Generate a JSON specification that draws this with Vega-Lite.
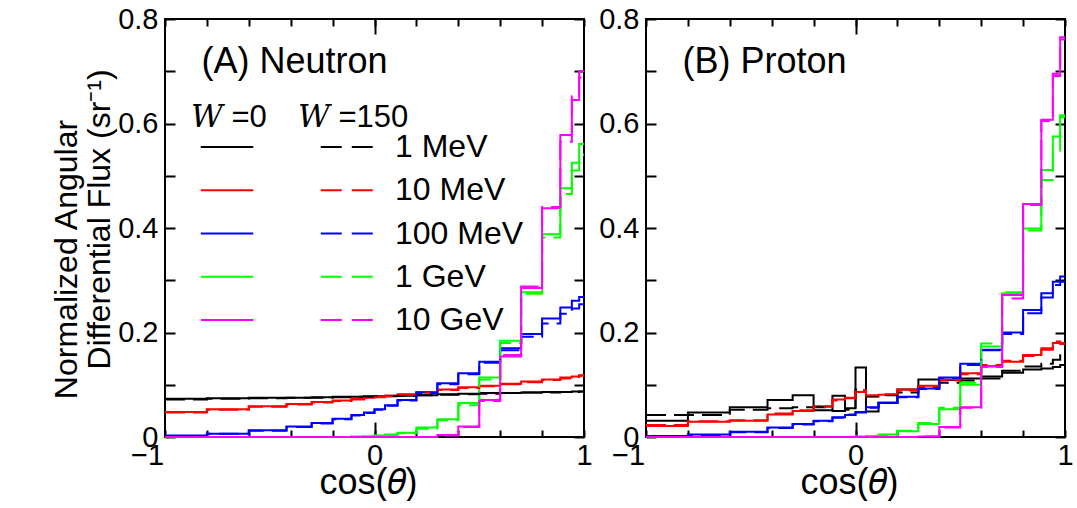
{
"$schema": "https://vega.github.io/schema/vega-lite/v6.json",
"padding": {"left": 48, "top": 4, "right": 5, "bottom": 0},
"background": "white",
"config": {
 "font": "Liberation Sans",
 "view": {"stroke": "black", "strokeWidth": 2},
 "axis": {"domain": false, "tickColor": "black", "tickWidth": 2, "labelFont": "Liberation Sans", "labelFontSize": 29, "labelColor": "black", "titleFont": "Liberation Sans", "titleFontSize": 32, "titleColor": "black", "titleFontWeight": "normal", "grid": false, "labelOverlap": false, "labelFlush": false, "labelBound": false},
 "legend": {"labelLimit": 0, "titleLimit": 0}
},
"data": {"values": [
{"p":"A","e":"1 MeV","w":"0","x":-1,"v":0.073},{"p":"A","e":"1 MeV","w":"0","x":-0.8,"v":0.074},{"p":"A","e":"1 MeV","w":"0","x":-0.6,"v":0.075},{"p":"A","e":"1 MeV","w":"0","x":-0.42,"v":0.075},{"p":"A","e":"1 MeV","w":"0","x":-0.3,"v":0.076},{"p":"A","e":"1 MeV","w":"0","x":-0.2,"v":0.077},{"p":"A","e":"1 MeV","w":"0","x":-0.11,"v":0.077},{"p":"A","e":"1 MeV","w":"0","x":-0.05,"v":0.078},{"p":"A","e":"1 MeV","w":"0","x":0,"v":0.078},{"p":"A","e":"1 MeV","w":"0","x":0.05,"v":0.079},{"p":"A","e":"1 MeV","w":"0","x":0.11,"v":0.079},{"p":"A","e":"1 MeV","w":"0","x":0.2,"v":0.080},{"p":"A","e":"1 MeV","w":"0","x":0.3,"v":0.082},{"p":"A","e":"1 MeV","w":"0","x":0.4,"v":0.083},{"p":"A","e":"1 MeV","w":"0","x":0.5,"v":0.084},{"p":"A","e":"1 MeV","w":"0","x":0.6,"v":0.084},{"p":"A","e":"1 MeV","w":"0","x":0.7,"v":0.085},{"p":"A","e":"1 MeV","w":"0","x":0.8,"v":0.086},{"p":"A","e":"1 MeV","w":"0","x":0.887,"v":0.086},{"p":"A","e":"1 MeV","w":"0","x":0.942,"v":0.087},{"p":"A","e":"1 MeV","w":"0","x":0.977,"v":0.087},{"p":"A","e":"1 MeV","w":"0","x":1,"v":0.087},
{"p":"A","e":"1 MeV","w":"150","x":-1,"v":0.072},{"p":"A","e":"1 MeV","w":"150","x":-0.8,"v":0.073},{"p":"A","e":"1 MeV","w":"150","x":-0.6,"v":0.074},{"p":"A","e":"1 MeV","w":"150","x":-0.42,"v":0.075},{"p":"A","e":"1 MeV","w":"150","x":-0.3,"v":0.075},{"p":"A","e":"1 MeV","w":"150","x":-0.2,"v":0.076},{"p":"A","e":"1 MeV","w":"150","x":-0.11,"v":0.077},{"p":"A","e":"1 MeV","w":"150","x":-0.05,"v":0.077},{"p":"A","e":"1 MeV","w":"150","x":0,"v":0.078},{"p":"A","e":"1 MeV","w":"150","x":0.05,"v":0.078},{"p":"A","e":"1 MeV","w":"150","x":0.11,"v":0.079},{"p":"A","e":"1 MeV","w":"150","x":0.2,"v":0.080},{"p":"A","e":"1 MeV","w":"150","x":0.3,"v":0.081},{"p":"A","e":"1 MeV","w":"150","x":0.4,"v":0.082},{"p":"A","e":"1 MeV","w":"150","x":0.5,"v":0.083},{"p":"A","e":"1 MeV","w":"150","x":0.6,"v":0.084},{"p":"A","e":"1 MeV","w":"150","x":0.7,"v":0.085},{"p":"A","e":"1 MeV","w":"150","x":0.8,"v":0.085},{"p":"A","e":"1 MeV","w":"150","x":0.887,"v":0.086},{"p":"A","e":"1 MeV","w":"150","x":0.942,"v":0.086},{"p":"A","e":"1 MeV","w":"150","x":0.977,"v":0.087},{"p":"A","e":"1 MeV","w":"150","x":1,"v":0.087},
{"p":"A","e":"10 MeV","w":"0","x":-1,"v":0.048},{"p":"A","e":"10 MeV","w":"0","x":-0.8,"v":0.053},{"p":"A","e":"10 MeV","w":"0","x":-0.6,"v":0.059},{"p":"A","e":"10 MeV","w":"0","x":-0.42,"v":0.063},{"p":"A","e":"10 MeV","w":"0","x":-0.3,"v":0.067},{"p":"A","e":"10 MeV","w":"0","x":-0.2,"v":0.070},{"p":"A","e":"10 MeV","w":"0","x":-0.11,"v":0.073},{"p":"A","e":"10 MeV","w":"0","x":-0.05,"v":0.075},{"p":"A","e":"10 MeV","w":"0","x":0,"v":0.077},{"p":"A","e":"10 MeV","w":"0","x":0.05,"v":0.079},{"p":"A","e":"10 MeV","w":"0","x":0.11,"v":0.082},{"p":"A","e":"10 MeV","w":"0","x":0.2,"v":0.086},{"p":"A","e":"10 MeV","w":"0","x":0.3,"v":0.091},{"p":"A","e":"10 MeV","w":"0","x":0.4,"v":0.095},{"p":"A","e":"10 MeV","w":"0","x":0.5,"v":0.098},{"p":"A","e":"10 MeV","w":"0","x":0.6,"v":0.102},{"p":"A","e":"10 MeV","w":"0","x":0.7,"v":0.106},{"p":"A","e":"10 MeV","w":"0","x":0.8,"v":0.110},{"p":"A","e":"10 MeV","w":"0","x":0.887,"v":0.114},{"p":"A","e":"10 MeV","w":"0","x":0.942,"v":0.116},{"p":"A","e":"10 MeV","w":"0","x":0.977,"v":0.118},{"p":"A","e":"10 MeV","w":"0","x":1,"v":0.118},
{"p":"A","e":"10 MeV","w":"150","x":-1,"v":0.047},{"p":"A","e":"10 MeV","w":"150","x":-0.8,"v":0.052},{"p":"A","e":"10 MeV","w":"150","x":-0.6,"v":0.058},{"p":"A","e":"10 MeV","w":"150","x":-0.42,"v":0.062},{"p":"A","e":"10 MeV","w":"150","x":-0.3,"v":0.066},{"p":"A","e":"10 MeV","w":"150","x":-0.2,"v":0.069},{"p":"A","e":"10 MeV","w":"150","x":-0.11,"v":0.072},{"p":"A","e":"10 MeV","w":"150","x":-0.05,"v":0.074},{"p":"A","e":"10 MeV","w":"150","x":0,"v":0.076},{"p":"A","e":"10 MeV","w":"150","x":0.05,"v":0.078},{"p":"A","e":"10 MeV","w":"150","x":0.11,"v":0.081},{"p":"A","e":"10 MeV","w":"150","x":0.2,"v":0.085},{"p":"A","e":"10 MeV","w":"150","x":0.3,"v":0.090},{"p":"A","e":"10 MeV","w":"150","x":0.4,"v":0.094},{"p":"A","e":"10 MeV","w":"150","x":0.5,"v":0.097},{"p":"A","e":"10 MeV","w":"150","x":0.6,"v":0.101},{"p":"A","e":"10 MeV","w":"150","x":0.7,"v":0.105},{"p":"A","e":"10 MeV","w":"150","x":0.8,"v":0.109},{"p":"A","e":"10 MeV","w":"150","x":0.887,"v":0.112},{"p":"A","e":"10 MeV","w":"150","x":0.942,"v":0.115},{"p":"A","e":"10 MeV","w":"150","x":0.977,"v":0.117},{"p":"A","e":"10 MeV","w":"150","x":1,"v":0.117},
{"p":"A","e":"100 MeV","w":"0","x":-1,"v":0.003},{"p":"A","e":"100 MeV","w":"0","x":-0.8,"v":0.006},{"p":"A","e":"100 MeV","w":"0","x":-0.6,"v":0.013},{"p":"A","e":"100 MeV","w":"0","x":-0.42,"v":0.020},{"p":"A","e":"100 MeV","w":"0","x":-0.3,"v":0.027},{"p":"A","e":"100 MeV","w":"0","x":-0.2,"v":0.035},{"p":"A","e":"100 MeV","w":"0","x":-0.11,"v":0.042},{"p":"A","e":"100 MeV","w":"0","x":-0.05,"v":0.047},{"p":"A","e":"100 MeV","w":"0","x":0,"v":0.053},{"p":"A","e":"100 MeV","w":"0","x":0.05,"v":0.061},{"p":"A","e":"100 MeV","w":"0","x":0.11,"v":0.071},{"p":"A","e":"100 MeV","w":"0","x":0.2,"v":0.085},{"p":"A","e":"100 MeV","w":"0","x":0.3,"v":0.103},{"p":"A","e":"100 MeV","w":"0","x":0.4,"v":0.122},{"p":"A","e":"100 MeV","w":"0","x":0.5,"v":0.144},{"p":"A","e":"100 MeV","w":"0","x":0.6,"v":0.170},{"p":"A","e":"100 MeV","w":"0","x":0.7,"v":0.197},{"p":"A","e":"100 MeV","w":"0","x":0.8,"v":0.227},{"p":"A","e":"100 MeV","w":"0","x":0.887,"v":0.248},{"p":"A","e":"100 MeV","w":"0","x":0.942,"v":0.261},{"p":"A","e":"100 MeV","w":"0","x":0.977,"v":0.268},{"p":"A","e":"100 MeV","w":"0","x":1,"v":0.268},
{"p":"A","e":"100 MeV","w":"150","x":-1,"v":0.002},{"p":"A","e":"100 MeV","w":"150","x":-0.8,"v":0.006},{"p":"A","e":"100 MeV","w":"150","x":-0.6,"v":0.012},{"p":"A","e":"100 MeV","w":"150","x":-0.42,"v":0.019},{"p":"A","e":"100 MeV","w":"150","x":-0.3,"v":0.026},{"p":"A","e":"100 MeV","w":"150","x":-0.2,"v":0.034},{"p":"A","e":"100 MeV","w":"150","x":-0.11,"v":0.041},{"p":"A","e":"100 MeV","w":"150","x":-0.05,"v":0.046},{"p":"A","e":"100 MeV","w":"150","x":0,"v":0.052},{"p":"A","e":"100 MeV","w":"150","x":0.05,"v":0.060},{"p":"A","e":"100 MeV","w":"150","x":0.11,"v":0.070},{"p":"A","e":"100 MeV","w":"150","x":0.2,"v":0.084},{"p":"A","e":"100 MeV","w":"150","x":0.3,"v":0.101},{"p":"A","e":"100 MeV","w":"150","x":0.4,"v":0.120},{"p":"A","e":"100 MeV","w":"150","x":0.5,"v":0.142},{"p":"A","e":"100 MeV","w":"150","x":0.6,"v":0.166},{"p":"A","e":"100 MeV","w":"150","x":0.7,"v":0.192},{"p":"A","e":"100 MeV","w":"150","x":0.8,"v":0.217},{"p":"A","e":"100 MeV","w":"150","x":0.887,"v":0.236},{"p":"A","e":"100 MeV","w":"150","x":0.942,"v":0.246},{"p":"A","e":"100 MeV","w":"150","x":0.977,"v":0.254},{"p":"A","e":"100 MeV","w":"150","x":1,"v":0.254},
{"p":"A","e":"1 GeV","w":"0","x":-1,"v":0},{"p":"A","e":"1 GeV","w":"0","x":-0.8,"v":0},{"p":"A","e":"1 GeV","w":"0","x":-0.6,"v":0},{"p":"A","e":"1 GeV","w":"0","x":-0.42,"v":0},{"p":"A","e":"1 GeV","w":"0","x":-0.3,"v":0},{"p":"A","e":"1 GeV","w":"0","x":-0.2,"v":0},{"p":"A","e":"1 GeV","w":"0","x":-0.11,"v":0.001},{"p":"A","e":"1 GeV","w":"0","x":-0.05,"v":0.001},{"p":"A","e":"1 GeV","w":"0","x":0,"v":0.003},{"p":"A","e":"1 GeV","w":"0","x":0.05,"v":0.005},{"p":"A","e":"1 GeV","w":"0","x":0.11,"v":0.008},{"p":"A","e":"1 GeV","w":"0","x":0.2,"v":0.018},{"p":"A","e":"1 GeV","w":"0","x":0.3,"v":0.034},{"p":"A","e":"1 GeV","w":"0","x":0.4,"v":0.065},{"p":"A","e":"1 GeV","w":"0","x":0.5,"v":0.114},{"p":"A","e":"1 GeV","w":"0","x":0.6,"v":0.184},{"p":"A","e":"1 GeV","w":"0","x":0.7,"v":0.277},{"p":"A","e":"1 GeV","w":"0","x":0.8,"v":0.388},{"p":"A","e":"1 GeV","w":"0","x":0.887,"v":0.476},{"p":"A","e":"1 GeV","w":"0","x":0.942,"v":0.525},{"p":"A","e":"1 GeV","w":"0","x":0.977,"v":0.561},{"p":"A","e":"1 GeV","w":"0","x":1,"v":0.561},
{"p":"A","e":"1 GeV","w":"150","x":-1,"v":0},{"p":"A","e":"1 GeV","w":"150","x":-0.8,"v":0},{"p":"A","e":"1 GeV","w":"150","x":-0.6,"v":0},{"p":"A","e":"1 GeV","w":"150","x":-0.42,"v":0},{"p":"A","e":"1 GeV","w":"150","x":-0.3,"v":0},{"p":"A","e":"1 GeV","w":"150","x":-0.2,"v":0},{"p":"A","e":"1 GeV","w":"150","x":-0.11,"v":0.001},{"p":"A","e":"1 GeV","w":"150","x":-0.05,"v":0.001},{"p":"A","e":"1 GeV","w":"150","x":0,"v":0.003},{"p":"A","e":"1 GeV","w":"150","x":0.05,"v":0.004},{"p":"A","e":"1 GeV","w":"150","x":0.11,"v":0.007},{"p":"A","e":"1 GeV","w":"150","x":0.2,"v":0.016},{"p":"A","e":"1 GeV","w":"150","x":0.3,"v":0.032},{"p":"A","e":"1 GeV","w":"150","x":0.4,"v":0.061},{"p":"A","e":"1 GeV","w":"150","x":0.5,"v":0.110},{"p":"A","e":"1 GeV","w":"150","x":0.6,"v":0.180},{"p":"A","e":"1 GeV","w":"150","x":0.7,"v":0.274},{"p":"A","e":"1 GeV","w":"150","x":0.8,"v":0.382},{"p":"A","e":"1 GeV","w":"150","x":0.887,"v":0.465},{"p":"A","e":"1 GeV","w":"150","x":0.942,"v":0.510},{"p":"A","e":"1 GeV","w":"150","x":0.977,"v":0.540},{"p":"A","e":"1 GeV","w":"150","x":1,"v":0.540},
{"p":"A","e":"10 GeV","w":"0","x":-1,"v":0},{"p":"A","e":"10 GeV","w":"0","x":-0.8,"v":0},{"p":"A","e":"10 GeV","w":"0","x":-0.6,"v":0},{"p":"A","e":"10 GeV","w":"0","x":-0.42,"v":0},{"p":"A","e":"10 GeV","w":"0","x":-0.3,"v":0},{"p":"A","e":"10 GeV","w":"0","x":-0.2,"v":0},{"p":"A","e":"10 GeV","w":"0","x":-0.11,"v":0},{"p":"A","e":"10 GeV","w":"0","x":-0.05,"v":0},{"p":"A","e":"10 GeV","w":"0","x":0,"v":0},{"p":"A","e":"10 GeV","w":"0","x":0.05,"v":0},{"p":"A","e":"10 GeV","w":"0","x":0.11,"v":0},{"p":"A","e":"10 GeV","w":"0","x":0.2,"v":0},{"p":"A","e":"10 GeV","w":"0","x":0.3,"v":0.004},{"p":"A","e":"10 GeV","w":"0","x":0.4,"v":0.020},{"p":"A","e":"10 GeV","w":"0","x":0.5,"v":0.071},{"p":"A","e":"10 GeV","w":"0","x":0.6,"v":0.154},{"p":"A","e":"10 GeV","w":"0","x":0.7,"v":0.285},{"p":"A","e":"10 GeV","w":"0","x":0.8,"v":0.438},{"p":"A","e":"10 GeV","w":"0","x":0.887,"v":0.578},{"p":"A","e":"10 GeV","w":"0","x":0.942,"v":0.645},{"p":"A","e":"10 GeV","w":"0","x":0.977,"v":0.700},{"p":"A","e":"10 GeV","w":"0","x":1,"v":0.700},
{"p":"A","e":"10 GeV","w":"150","x":-1,"v":0},{"p":"A","e":"10 GeV","w":"150","x":-0.8,"v":0},{"p":"A","e":"10 GeV","w":"150","x":-0.6,"v":0},{"p":"A","e":"10 GeV","w":"150","x":-0.42,"v":0},{"p":"A","e":"10 GeV","w":"150","x":-0.3,"v":0},{"p":"A","e":"10 GeV","w":"150","x":-0.2,"v":0},{"p":"A","e":"10 GeV","w":"150","x":-0.11,"v":0},{"p":"A","e":"10 GeV","w":"150","x":-0.05,"v":0},{"p":"A","e":"10 GeV","w":"150","x":0,"v":0},{"p":"A","e":"10 GeV","w":"150","x":0.05,"v":0},{"p":"A","e":"10 GeV","w":"150","x":0.11,"v":0},{"p":"A","e":"10 GeV","w":"150","x":0.2,"v":0},{"p":"A","e":"10 GeV","w":"150","x":0.3,"v":0.003},{"p":"A","e":"10 GeV","w":"150","x":0.4,"v":0.019},{"p":"A","e":"10 GeV","w":"150","x":0.5,"v":0.069},{"p":"A","e":"10 GeV","w":"150","x":0.6,"v":0.157},{"p":"A","e":"10 GeV","w":"150","x":0.7,"v":0.288},{"p":"A","e":"10 GeV","w":"150","x":0.8,"v":0.440},{"p":"A","e":"10 GeV","w":"150","x":0.887,"v":0.565},{"p":"A","e":"10 GeV","w":"150","x":0.942,"v":0.652},{"p":"A","e":"10 GeV","w":"150","x":0.977,"v":0.688},{"p":"A","e":"10 GeV","w":"150","x":1,"v":0.688},
{"p":"B","e":"1 MeV","w":"0","x":-1,"v":0.031},{"p":"B","e":"1 MeV","w":"0","x":-0.8,"v":0.047},{"p":"B","e":"1 MeV","w":"0","x":-0.6,"v":0.057},{"p":"B","e":"1 MeV","w":"0","x":-0.42,"v":0.071},{"p":"B","e":"1 MeV","w":"0","x":-0.3,"v":0.080},{"p":"B","e":"1 MeV","w":"0","x":-0.2,"v":0.051},{"p":"B","e":"1 MeV","w":"0","x":-0.11,"v":0.079},{"p":"B","e":"1 MeV","w":"0","x":-0.05,"v":0.055},{"p":"B","e":"1 MeV","w":"0","x":0,"v":0.133},{"p":"B","e":"1 MeV","w":"0","x":0.05,"v":0.049},{"p":"B","e":"1 MeV","w":"0","x":0.11,"v":0.065},{"p":"B","e":"1 MeV","w":"0","x":0.2,"v":0.091},{"p":"B","e":"1 MeV","w":"0","x":0.3,"v":0.110},{"p":"B","e":"1 MeV","w":"0","x":0.4,"v":0.109},{"p":"B","e":"1 MeV","w":"0","x":0.5,"v":0.112},{"p":"B","e":"1 MeV","w":"0","x":0.6,"v":0.116},{"p":"B","e":"1 MeV","w":"0","x":0.7,"v":0.123},{"p":"B","e":"1 MeV","w":"0","x":0.8,"v":0.129},{"p":"B","e":"1 MeV","w":"0","x":0.887,"v":0.131},{"p":"B","e":"1 MeV","w":"0","x":0.942,"v":0.134},{"p":"B","e":"1 MeV","w":"0","x":0.977,"v":0.138},{"p":"B","e":"1 MeV","w":"0","x":1,"v":0.138},
{"p":"B","e":"1 MeV","w":"150","x":-1,"v":0.042},{"p":"B","e":"1 MeV","w":"150","x":-0.8,"v":0.042},{"p":"B","e":"1 MeV","w":"150","x":-0.6,"v":0.052},{"p":"B","e":"1 MeV","w":"150","x":-0.42,"v":0.055},{"p":"B","e":"1 MeV","w":"150","x":-0.3,"v":0.057},{"p":"B","e":"1 MeV","w":"150","x":-0.2,"v":0.057},{"p":"B","e":"1 MeV","w":"150","x":-0.11,"v":0.050},{"p":"B","e":"1 MeV","w":"150","x":-0.05,"v":0.052},{"p":"B","e":"1 MeV","w":"150","x":0,"v":0.091},{"p":"B","e":"1 MeV","w":"150","x":0.05,"v":0.078},{"p":"B","e":"1 MeV","w":"150","x":0.11,"v":0.080},{"p":"B","e":"1 MeV","w":"150","x":0.2,"v":0.085},{"p":"B","e":"1 MeV","w":"150","x":0.3,"v":0.096},{"p":"B","e":"1 MeV","w":"150","x":0.4,"v":0.104},{"p":"B","e":"1 MeV","w":"150","x":0.5,"v":0.108},{"p":"B","e":"1 MeV","w":"150","x":0.6,"v":0.112},{"p":"B","e":"1 MeV","w":"150","x":0.7,"v":0.127},{"p":"B","e":"1 MeV","w":"150","x":0.8,"v":0.135},{"p":"B","e":"1 MeV","w":"150","x":0.887,"v":0.140},{"p":"B","e":"1 MeV","w":"150","x":0.942,"v":0.148},{"p":"B","e":"1 MeV","w":"150","x":0.977,"v":0.160},{"p":"B","e":"1 MeV","w":"150","x":1,"v":0.160},
{"p":"B","e":"10 MeV","w":"0","x":-1,"v":0.021},{"p":"B","e":"10 MeV","w":"0","x":-0.8,"v":0.029},{"p":"B","e":"10 MeV","w":"0","x":-0.6,"v":0.031},{"p":"B","e":"10 MeV","w":"0","x":-0.42,"v":0.043},{"p":"B","e":"10 MeV","w":"0","x":-0.3,"v":0.050},{"p":"B","e":"10 MeV","w":"0","x":-0.2,"v":0.059},{"p":"B","e":"10 MeV","w":"0","x":-0.11,"v":0.072},{"p":"B","e":"10 MeV","w":"0","x":-0.05,"v":0.075},{"p":"B","e":"10 MeV","w":"0","x":0,"v":0.086},{"p":"B","e":"10 MeV","w":"0","x":0.05,"v":0.077},{"p":"B","e":"10 MeV","w":"0","x":0.11,"v":0.081},{"p":"B","e":"10 MeV","w":"0","x":0.2,"v":0.091},{"p":"B","e":"10 MeV","w":"0","x":0.3,"v":0.098},{"p":"B","e":"10 MeV","w":"0","x":0.4,"v":0.110},{"p":"B","e":"10 MeV","w":"0","x":0.5,"v":0.122},{"p":"B","e":"10 MeV","w":"0","x":0.6,"v":0.135},{"p":"B","e":"10 MeV","w":"0","x":0.7,"v":0.144},{"p":"B","e":"10 MeV","w":"0","x":0.8,"v":0.157},{"p":"B","e":"10 MeV","w":"0","x":0.887,"v":0.170},{"p":"B","e":"10 MeV","w":"0","x":0.942,"v":0.180},{"p":"B","e":"10 MeV","w":"0","x":0.977,"v":0.178},{"p":"B","e":"10 MeV","w":"0","x":1,"v":0.178},
{"p":"B","e":"10 MeV","w":"150","x":-1,"v":0.023},{"p":"B","e":"10 MeV","w":"150","x":-0.8,"v":0.030},{"p":"B","e":"10 MeV","w":"150","x":-0.6,"v":0.032},{"p":"B","e":"10 MeV","w":"150","x":-0.42,"v":0.045},{"p":"B","e":"10 MeV","w":"150","x":-0.3,"v":0.051},{"p":"B","e":"10 MeV","w":"150","x":-0.2,"v":0.058},{"p":"B","e":"10 MeV","w":"150","x":-0.11,"v":0.070},{"p":"B","e":"10 MeV","w":"150","x":-0.05,"v":0.074},{"p":"B","e":"10 MeV","w":"150","x":0,"v":0.090},{"p":"B","e":"10 MeV","w":"150","x":0.05,"v":0.080},{"p":"B","e":"10 MeV","w":"150","x":0.11,"v":0.082},{"p":"B","e":"10 MeV","w":"150","x":0.2,"v":0.089},{"p":"B","e":"10 MeV","w":"150","x":0.3,"v":0.097},{"p":"B","e":"10 MeV","w":"150","x":0.4,"v":0.108},{"p":"B","e":"10 MeV","w":"150","x":0.5,"v":0.120},{"p":"B","e":"10 MeV","w":"150","x":0.6,"v":0.138},{"p":"B","e":"10 MeV","w":"150","x":0.7,"v":0.146},{"p":"B","e":"10 MeV","w":"150","x":0.8,"v":0.155},{"p":"B","e":"10 MeV","w":"150","x":0.887,"v":0.167},{"p":"B","e":"10 MeV","w":"150","x":0.942,"v":0.183},{"p":"B","e":"10 MeV","w":"150","x":0.977,"v":0.180},{"p":"B","e":"10 MeV","w":"150","x":1,"v":0.180},
{"p":"B","e":"100 MeV","w":"0","x":-1,"v":0.002},{"p":"B","e":"100 MeV","w":"0","x":-0.8,"v":0.005},{"p":"B","e":"100 MeV","w":"0","x":-0.6,"v":0.010},{"p":"B","e":"100 MeV","w":"0","x":-0.42,"v":0.018},{"p":"B","e":"100 MeV","w":"0","x":-0.3,"v":0.025},{"p":"B","e":"100 MeV","w":"0","x":-0.2,"v":0.031},{"p":"B","e":"100 MeV","w":"0","x":-0.11,"v":0.038},{"p":"B","e":"100 MeV","w":"0","x":-0.05,"v":0.042},{"p":"B","e":"100 MeV","w":"0","x":0,"v":0.047},{"p":"B","e":"100 MeV","w":"0","x":0.05,"v":0.057},{"p":"B","e":"100 MeV","w":"0","x":0.11,"v":0.066},{"p":"B","e":"100 MeV","w":"0","x":0.2,"v":0.077},{"p":"B","e":"100 MeV","w":"0","x":0.3,"v":0.093},{"p":"B","e":"100 MeV","w":"0","x":0.4,"v":0.114},{"p":"B","e":"100 MeV","w":"0","x":0.5,"v":0.140},{"p":"B","e":"100 MeV","w":"0","x":0.6,"v":0.167},{"p":"B","e":"100 MeV","w":"0","x":0.7,"v":0.200},{"p":"B","e":"100 MeV","w":"0","x":0.8,"v":0.243},{"p":"B","e":"100 MeV","w":"0","x":0.887,"v":0.275},{"p":"B","e":"100 MeV","w":"0","x":0.942,"v":0.297},{"p":"B","e":"100 MeV","w":"0","x":0.977,"v":0.307},{"p":"B","e":"100 MeV","w":"0","x":1,"v":0.307},
{"p":"B","e":"100 MeV","w":"150","x":-1,"v":0.002},{"p":"B","e":"100 MeV","w":"150","x":-0.8,"v":0.004},{"p":"B","e":"100 MeV","w":"150","x":-0.6,"v":0.009},{"p":"B","e":"100 MeV","w":"150","x":-0.42,"v":0.017},{"p":"B","e":"100 MeV","w":"150","x":-0.3,"v":0.024},{"p":"B","e":"100 MeV","w":"150","x":-0.2,"v":0.030},{"p":"B","e":"100 MeV","w":"150","x":-0.11,"v":0.037},{"p":"B","e":"100 MeV","w":"150","x":-0.05,"v":0.043},{"p":"B","e":"100 MeV","w":"150","x":0,"v":0.048},{"p":"B","e":"100 MeV","w":"150","x":0.05,"v":0.056},{"p":"B","e":"100 MeV","w":"150","x":0.11,"v":0.065},{"p":"B","e":"100 MeV","w":"150","x":0.2,"v":0.076},{"p":"B","e":"100 MeV","w":"150","x":0.3,"v":0.092},{"p":"B","e":"100 MeV","w":"150","x":0.4,"v":0.113},{"p":"B","e":"100 MeV","w":"150","x":0.5,"v":0.138},{"p":"B","e":"100 MeV","w":"150","x":0.6,"v":0.166},{"p":"B","e":"100 MeV","w":"150","x":0.7,"v":0.197},{"p":"B","e":"100 MeV","w":"150","x":0.8,"v":0.237},{"p":"B","e":"100 MeV","w":"150","x":0.887,"v":0.267},{"p":"B","e":"100 MeV","w":"150","x":0.942,"v":0.291},{"p":"B","e":"100 MeV","w":"150","x":0.977,"v":0.297},{"p":"B","e":"100 MeV","w":"150","x":1,"v":0.297},
{"p":"B","e":"1 GeV","w":"0","x":-1,"v":0},{"p":"B","e":"1 GeV","w":"0","x":-0.8,"v":0},{"p":"B","e":"1 GeV","w":"0","x":-0.6,"v":0},{"p":"B","e":"1 GeV","w":"0","x":-0.42,"v":0},{"p":"B","e":"1 GeV","w":"0","x":-0.3,"v":0},{"p":"B","e":"1 GeV","w":"0","x":-0.2,"v":0},{"p":"B","e":"1 GeV","w":"0","x":-0.11,"v":0},{"p":"B","e":"1 GeV","w":"0","x":-0.05,"v":0},{"p":"B","e":"1 GeV","w":"0","x":0,"v":0.001},{"p":"B","e":"1 GeV","w":"0","x":0.05,"v":0.002},{"p":"B","e":"1 GeV","w":"0","x":0.11,"v":0.005},{"p":"B","e":"1 GeV","w":"0","x":0.2,"v":0.011},{"p":"B","e":"1 GeV","w":"0","x":0.3,"v":0.025},{"p":"B","e":"1 GeV","w":"0","x":0.4,"v":0.053},{"p":"B","e":"1 GeV","w":"0","x":0.5,"v":0.100},{"p":"B","e":"1 GeV","w":"0","x":0.6,"v":0.173},{"p":"B","e":"1 GeV","w":"0","x":0.7,"v":0.275},{"p":"B","e":"1 GeV","w":"0","x":0.8,"v":0.399},{"p":"B","e":"1 GeV","w":"0","x":0.887,"v":0.511},{"p":"B","e":"1 GeV","w":"0","x":0.942,"v":0.575},{"p":"B","e":"1 GeV","w":"0","x":0.977,"v":0.616},{"p":"B","e":"1 GeV","w":"0","x":1,"v":0.616},
{"p":"B","e":"1 GeV","w":"150","x":-1,"v":0},{"p":"B","e":"1 GeV","w":"150","x":-0.8,"v":0},{"p":"B","e":"1 GeV","w":"150","x":-0.6,"v":0},{"p":"B","e":"1 GeV","w":"150","x":-0.42,"v":0},{"p":"B","e":"1 GeV","w":"150","x":-0.3,"v":0},{"p":"B","e":"1 GeV","w":"150","x":-0.2,"v":0},{"p":"B","e":"1 GeV","w":"150","x":-0.11,"v":0},{"p":"B","e":"1 GeV","w":"150","x":-0.05,"v":0},{"p":"B","e":"1 GeV","w":"150","x":0,"v":0.001},{"p":"B","e":"1 GeV","w":"150","x":0.05,"v":0.002},{"p":"B","e":"1 GeV","w":"150","x":0.11,"v":0.004},{"p":"B","e":"1 GeV","w":"150","x":0.2,"v":0.012},{"p":"B","e":"1 GeV","w":"150","x":0.3,"v":0.027},{"p":"B","e":"1 GeV","w":"150","x":0.4,"v":0.056},{"p":"B","e":"1 GeV","w":"150","x":0.5,"v":0.104},{"p":"B","e":"1 GeV","w":"150","x":0.6,"v":0.179},{"p":"B","e":"1 GeV","w":"150","x":0.7,"v":0.277},{"p":"B","e":"1 GeV","w":"150","x":0.8,"v":0.395},{"p":"B","e":"1 GeV","w":"150","x":0.887,"v":0.492},{"p":"B","e":"1 GeV","w":"150","x":0.942,"v":0.548},{"p":"B","e":"1 GeV","w":"150","x":0.977,"v":0.612},{"p":"B","e":"1 GeV","w":"150","x":1,"v":0.612},
{"p":"B","e":"10 GeV","w":"0","x":-1,"v":0},{"p":"B","e":"10 GeV","w":"0","x":-0.8,"v":0},{"p":"B","e":"10 GeV","w":"0","x":-0.6,"v":0},{"p":"B","e":"10 GeV","w":"0","x":-0.42,"v":0},{"p":"B","e":"10 GeV","w":"0","x":-0.3,"v":0},{"p":"B","e":"10 GeV","w":"0","x":-0.2,"v":0},{"p":"B","e":"10 GeV","w":"0","x":-0.11,"v":0},{"p":"B","e":"10 GeV","w":"0","x":-0.05,"v":0},{"p":"B","e":"10 GeV","w":"0","x":0,"v":0},{"p":"B","e":"10 GeV","w":"0","x":0.05,"v":0},{"p":"B","e":"10 GeV","w":"0","x":0.11,"v":0},{"p":"B","e":"10 GeV","w":"0","x":0.2,"v":0},{"p":"B","e":"10 GeV","w":"0","x":0.3,"v":0.001},{"p":"B","e":"10 GeV","w":"0","x":0.4,"v":0.019},{"p":"B","e":"10 GeV","w":"0","x":0.5,"v":0.057},{"p":"B","e":"10 GeV","w":"0","x":0.6,"v":0.136},{"p":"B","e":"10 GeV","w":"0","x":0.7,"v":0.272},{"p":"B","e":"10 GeV","w":"0","x":0.8,"v":0.446},{"p":"B","e":"10 GeV","w":"0","x":0.887,"v":0.607},{"p":"B","e":"10 GeV","w":"0","x":0.942,"v":0.691},{"p":"B","e":"10 GeV","w":"0","x":0.977,"v":0.761},{"p":"B","e":"10 GeV","w":"0","x":1,"v":0.761},
{"p":"B","e":"10 GeV","w":"150","x":-1,"v":0},{"p":"B","e":"10 GeV","w":"150","x":-0.8,"v":0},{"p":"B","e":"10 GeV","w":"150","x":-0.6,"v":0},{"p":"B","e":"10 GeV","w":"150","x":-0.42,"v":0},{"p":"B","e":"10 GeV","w":"150","x":-0.3,"v":0},{"p":"B","e":"10 GeV","w":"150","x":-0.2,"v":0},{"p":"B","e":"10 GeV","w":"150","x":-0.11,"v":0},{"p":"B","e":"10 GeV","w":"150","x":-0.05,"v":0},{"p":"B","e":"10 GeV","w":"150","x":0,"v":0},{"p":"B","e":"10 GeV","w":"150","x":0.05,"v":0},{"p":"B","e":"10 GeV","w":"150","x":0.11,"v":0},{"p":"B","e":"10 GeV","w":"150","x":0.2,"v":0},{"p":"B","e":"10 GeV","w":"150","x":0.3,"v":0.001},{"p":"B","e":"10 GeV","w":"150","x":0.4,"v":0.018},{"p":"B","e":"10 GeV","w":"150","x":0.5,"v":0.056},{"p":"B","e":"10 GeV","w":"150","x":0.6,"v":0.134},{"p":"B","e":"10 GeV","w":"150","x":0.7,"v":0.265},{"p":"B","e":"10 GeV","w":"150","x":0.8,"v":0.444},{"p":"B","e":"10 GeV","w":"150","x":0.887,"v":0.605},{"p":"B","e":"10 GeV","w":"150","x":0.942,"v":0.695},{"p":"B","e":"10 GeV","w":"150","x":0.977,"v":0.765},{"p":"B","e":"10 GeV","w":"150","x":1,"v":0.765}
]},
"spacing": 62,
"bounds": "flush",
"resolve": {"scale": {"color": "independent", "stroke": "independent"}},
"hconcat": [
{
 "width": 419, "height": 418,
 "transform": [{"filter": "datum.p=='A'"}],
 "resolve": {"axis": {"x": "independent", "y": "independent"}},
 "layer": [
  {
   "transform": [{"filter": "datum.w=='0'"}],
   "mark": {"type": "line", "interpolate": "step-after", "strokeWidth": 2},
   "encoding": {
    "x": {"field": "x", "type": "quantitative", "scale": {"domain": [-1, 1], "nice": false, "zero": false},
     "axis": {"orient": "bottom", "offset": -7, "values": [-1,-0.8,-0.6,-0.4,-0.2,0,0.2,0.4,0.6,0.8,1], "labelExpr": "datum.value==-1?'\u22121':datum.value==0?'0':datum.value==1?'1':''", "tickSize": 7, "labelPadding": 4, "labelOffset": {"condition": {"test": "datum.value==-1", "value": -18}, "value": 0}, "title": "cos(\ud835\udf03)", "titleFont": "Liberation Sans, DejaVu Serif", "titleFontSize": 36, "titleBaseline": "alphabetic", "titleX": 203, "titleY": 63}},
    "y": {"field": "v", "type": "quantitative", "scale": {"domain": [0, 0.8], "nice": false, "zero": false},
     "axis": {"orient": "left", "offset": -10, "values": [0,0.1,0.2,0.3,0.4,0.5,0.6,0.7,0.8], "labelExpr": "datum.value==0?'0':(round(datum.value*10)%2==0?format(datum.value,'.1f'):'')", "tickSize": 10, "labelPadding": 7, "title": "Differential Flux (sr\u207b\u00b9)", "titleAngle": -90, "titleAlign": "center", "titleBaseline": "top", "titleX": -91, "titleY": 200}},
    "color": {"field": "e", "type": "nominal", "scale": {"domain": ["1 MeV","10 MeV","100 MeV","1 GeV","10 GeV"," "], "range": ["#000000","#ff0000","#0000ff","#00ff00","#ff00ff","transparent"]},
     "legend": {"title": "\ud835\udc4a =0", "orient": "none", "legendX": 26, "legendY": 84, "direction": "vertical", "labelExpr": "''", "symbolType": "M-2.5,0H2.5", "symbolSize": 441, "symbolStrokeWidth": 2, "symbolOffset": 20, "labelFontSize": 32, "titleFont": "Liberation Sans, DejaVu Serif", "titleFontSize": 31, "titleFontWeight": "normal", "titleColor": "black", "titlePadding": -3, "rowPadding": 11.25, "padding": 0}}
   }
  },
  {
   "transform": [{"filter": "datum.w=='150'"}],
   "mark": {"type": "line", "interpolate": "step-after", "strokeWidth": 2, "strokeDash": [20, 8]},
   "encoding": {
    "x": {"field": "x", "type": "quantitative", "scale": {"domain": [-1, 1], "nice": false, "zero": false},
     "axis": {"orient": "top", "offset": -7, "values": [-1,-0.8,-0.6,-0.4,-0.2,0,0.2,0.4,0.6,0.8,1], "labels": false, "tickSize": 7, "title": "(A) Neutron", "titleFontSize": 36, "titleAngle": 0, "titleAlign": "left", "titleBaseline": "alphabetic", "titleX": 36, "titleY": 46}},
    "y": {"field": "v", "type": "quantitative", "scale": {"domain": [0, 0.8], "nice": false, "zero": false},
     "axis": {"orient": "right", "offset": -10, "values": [0,0.1,0.2,0.3,0.4,0.5,0.6,0.7,0.8], "labels": false, "title": null, "tickSize": 10}},
    "stroke": {"field": "e", "type": "nominal", "scale": {"domain": ["1 MeV","10 MeV","100 MeV","1 GeV","10 GeV"], "range": ["#000000","#ff0000","#0000ff","#00ff00","#ff00ff"]},
     "legend": {"title": "\ud835\udc4a =150", "orient": "none", "legendX": 133, "legendY": 84, "direction": "vertical", "symbolType": "M-2.5,0H2.5", "symbolSize": 441, "symbolStrokeWidth": 2, "symbolDash": [21, 10], "symbolOffset": 33, "labelOffset": 32, "labelFont": "Liberation Sans", "labelFontSize": 32, "labelColor": "black", "titleFont": "Liberation Sans, DejaVu Serif", "titleFontSize": 31, "titleFontWeight": "normal", "titleColor": "black", "titlePadding": -3, "rowPadding": 11.25, "padding": 0}}
   }
  },
  {
   "mark": {"type": "line", "opacity": 0},
   "encoding": {
    "x": {"field": "x", "type": "quantitative", "scale": {"domain": [-1, 1], "nice": false, "zero": false},
     "axis": {"orient": "bottom", "offset": -15, "values": [0], "labels": false, "tickSize": 15, "title": null}},
    "y": {"field": "v", "type": "quantitative", "scale": {"domain": [0, 0.8], "nice": false, "zero": false},
     "axis": {"orient": "left", "labels": false, "ticks": false, "title": "Normalized Angular", "titleAngle": -90, "titleAlign": "center", "titleBaseline": "top", "titleX": -114, "titleY": 240}}
   }
  },
  {
   "mark": {"type": "line", "opacity": 0},
   "encoding": {
    "x": {"field": "x", "type": "quantitative", "scale": {"domain": [-1, 1], "nice": false, "zero": false},
     "axis": {"orient": "top", "offset": -15, "values": [0], "labels": false, "tickSize": 15, "title": null}},
    "y": {"field": "v", "type": "quantitative", "scale": {"domain": [0, 0.8], "nice": false, "zero": false}, "axis": null}
   }
  }
 ]
},
{
 "width": 419, "height": 418,
 "transform": [{"filter": "datum.p=='B'"}],
 "resolve": {"axis": {"x": "independent", "y": "independent"}},
 "layer": [
  {
   "transform": [{"filter": "datum.w=='0'"}],
   "mark": {"type": "line", "interpolate": "step-after", "strokeWidth": 2},
   "encoding": {
    "x": {"field": "x", "type": "quantitative", "scale": {"domain": [-1, 1], "nice": false, "zero": false},
     "axis": {"orient": "bottom", "offset": -7, "values": [-1,-0.8,-0.6,-0.4,-0.2,0,0.2,0.4,0.6,0.8,1], "labelExpr": "datum.value==-1?'\u22121':datum.value==0?'0':datum.value==1?'1':''", "tickSize": 7, "labelPadding": 4, "labelOffset": {"condition": {"test": "datum.value==-1", "value": -18}, "value": 0}, "title": "cos(\ud835\udf03)", "titleFont": "Liberation Sans, DejaVu Serif", "titleFontSize": 36, "titleBaseline": "alphabetic", "titleX": 203, "titleY": 63}},
    "y": {"field": "v", "type": "quantitative", "scale": {"domain": [0, 0.8], "nice": false, "zero": false},
     "axis": {"orient": "left", "offset": -10, "values": [0,0.1,0.2,0.3,0.4,0.5,0.6,0.7,0.8], "labelExpr": "datum.value==0?'0':(round(datum.value*10)%2==0?format(datum.value,'.1f'):'')", "tickSize": 10, "labelPadding": 7, "title": null}},
    "color": {"field": "e", "type": "nominal", "scale": {"domain": ["1 MeV","10 MeV","100 MeV","1 GeV","10 GeV"], "range": ["#000000","#ff0000","#0000ff","#00ff00","#ff00ff"]}, "legend": null}
   }
  },
  {
   "transform": [{"filter": "datum.w=='150'"}],
   "mark": {"type": "line", "interpolate": "step-after", "strokeWidth": 2, "strokeDash": [20, 8]},
   "encoding": {
    "x": {"field": "x", "type": "quantitative", "scale": {"domain": [-1, 1], "nice": false, "zero": false},
     "axis": {"orient": "top", "offset": -7, "values": [-1,-0.8,-0.6,-0.4,-0.2,0,0.2,0.4,0.6,0.8,1], "labels": false, "tickSize": 7, "title": "(B) Proton", "titleFontSize": 36, "titleAngle": 0, "titleAlign": "left", "titleBaseline": "alphabetic", "titleX": 36, "titleY": 46}},
    "y": {"field": "v", "type": "quantitative", "scale": {"domain": [0, 0.8], "nice": false, "zero": false},
     "axis": {"orient": "right", "offset": -10, "values": [0,0.1,0.2,0.3,0.4,0.5,0.6,0.7,0.8], "labels": false, "title": null, "tickSize": 10}},
    "stroke": {"field": "e", "type": "nominal", "scale": {"domain": ["1 MeV","10 MeV","100 MeV","1 GeV","10 GeV"], "range": ["#000000","#ff0000","#0000ff","#00ff00","#ff00ff"]}, "legend": null}
   }
  },
  {
   "mark": {"type": "line", "opacity": 0},
   "encoding": {
    "x": {"field": "x", "type": "quantitative", "scale": {"domain": [-1, 1], "nice": false, "zero": false},
     "axis": {"orient": "bottom", "offset": -15, "values": [0], "labels": false, "tickSize": 15, "title": null}},
    "y": {"field": "v", "type": "quantitative", "scale": {"domain": [0, 0.8], "nice": false, "zero": false}, "axis": null}
   }
  },
  {
   "mark": {"type": "line", "opacity": 0},
   "encoding": {
    "x": {"field": "x", "type": "quantitative", "scale": {"domain": [-1, 1], "nice": false, "zero": false},
     "axis": {"orient": "top", "offset": -15, "values": [0], "labels": false, "tickSize": 15, "title": null}},
    "y": {"field": "v", "type": "quantitative", "scale": {"domain": [0, 0.8], "nice": false, "zero": false}, "axis": null}
   }
  }
 ]
}
]
}
